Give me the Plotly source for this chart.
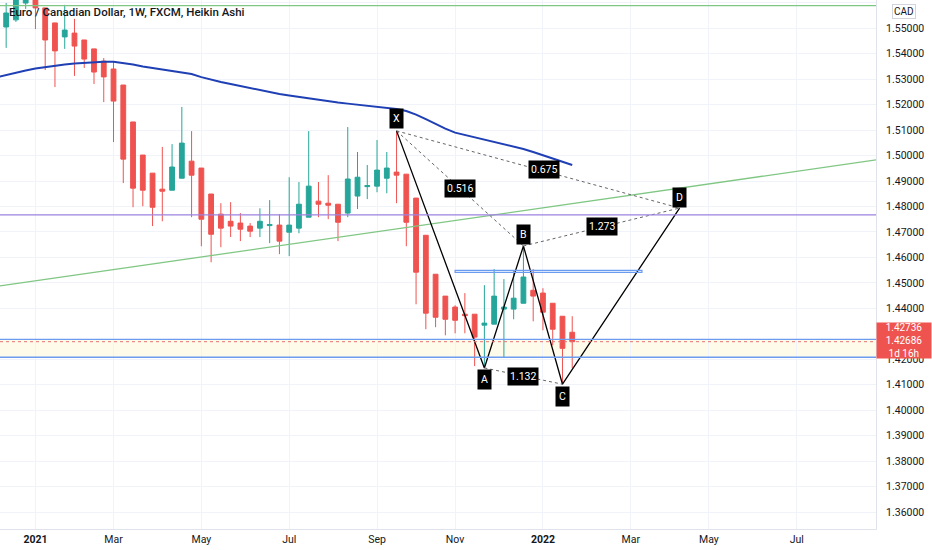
import pandas as pd
import plotly.graph_objects as go

# EUR/CAD weekly Heikin Ashi bars (FXCM), one bar per week starting Monday
weeks = pd.date_range("2020-12-07", periods=60, freq="W-MON")

ha_open = [1.5525, 1.5505, 1.5533, 1.5599, 1.5623, 1.5580, 1.5521, 1.5466, 1.5481, 1.5454,
           1.5419, 1.5371, 1.5340, 1.5277, 1.5132, 1.5002, 1.4931, 1.4868, 1.4864, 1.4911,
           1.4978, 1.4951, 1.4849, 1.4770, 1.4742, 1.4735, 1.4723, 1.4715, 1.4725, 1.4727,
           1.4699, 1.4715, 1.4758, 1.4821, 1.4813, 1.4809, 1.4774, 1.4841, 1.4878, 1.4880,
           1.4911, 1.4935, 1.4927, 1.4833, 1.4687, 1.4534, 1.4448, 1.4405, 1.4377, 1.4377,
           1.4334, 1.4338, 1.4397, 1.4397, 1.4420, 1.4471, 1.4460, 1.4420, 1.4369, 1.4306]
ha_high = [1.5530, 1.5599, 1.5643, 1.5650, 1.5643, 1.5580, 1.5521, 1.5592, 1.5537, 1.5454,
           1.5419, 1.5383, 1.5371, 1.5277, 1.5132, 1.5002, 1.4931, 1.5034, 1.5045, 1.5191,
           1.5096, 1.4951, 1.4849, 1.4813, 1.4817, 1.4774, 1.4735, 1.4793, 1.4825, 1.4770,
           1.4915, 1.4896, 1.5096, 1.4896, 1.4923, 1.4809, 1.5112, 1.5014, 1.4963, 1.5061,
           1.5014, 1.5097, 1.4927, 1.4833, 1.4687, 1.4534, 1.4448, 1.4412, 1.4460, 1.4377,
           1.4491, 1.4554, 1.4515, 1.4550, 1.4645, 1.4554, 1.4479, 1.4420, 1.4369, 1.4369]
ha_low = [1.5470, 1.5423, 1.5525, 1.5576, 1.5497, 1.5336, 1.5269, 1.5419, 1.5313, 1.5344,
          1.5281, 1.5210, 1.5053, 1.4892, 1.4797, 1.4801, 1.4723, 1.4742, 1.4864, 1.4911,
          1.4758, 1.4644, 1.4581, 1.4640, 1.4680, 1.4664, 1.4680, 1.4680, 1.4656, 1.4613,
          1.4605, 1.4695, 1.4758, 1.4758, 1.4750, 1.4664, 1.4758, 1.4790, 1.4829, 1.4856,
          1.4852, 1.4813, 1.4644, 1.4416, 1.4318, 1.4326, 1.4294, 1.4302, 1.4302, 1.4173,
          1.4166, 1.4338, 1.4208, 1.4357, 1.4420, 1.4349, 1.4314, 1.4255, 1.4102, 1.4165]
ha_close = [1.5486, 1.5560, 1.5623, 1.5635, 1.5580, 1.5454, 1.5411, 1.5493, 1.5430, 1.5379,
            1.5328, 1.5309, 1.5214, 1.4986, 1.4872, 1.4864, 1.4797, 1.4860, 1.4955, 1.5049,
            1.4923, 1.4750, 1.4691, 1.4715, 1.4723, 1.4711, 1.4703, 1.4742, 1.4729, 1.4664,
            1.4727, 1.4809, 1.4880, 1.4809, 1.4805, 1.4738, 1.4908, 1.4915, 1.4882, 1.4943,
            1.4951, 1.4923, 1.4738, 1.4542, 1.4381, 1.4365, 1.4357, 1.4353, 1.4371, 1.4287,
            1.4342, 1.4448, 1.4405, 1.4440, 1.4523, 1.4448, 1.4385, 1.4318, 1.4243, 1.4269]
# long moving average (dark blue)
ma_line = [1.5307, 1.5317, 1.5326, 1.5334, 1.5342, 1.5348, 1.5354, 1.5358, 1.5362, 1.5365,
           1.5367, 1.5368, 1.5368, 1.5364, 1.5358, 1.5350, 1.5344, 1.5338, 1.5334, 1.5328,
           1.5320, 1.5308, 1.5297, 1.5289, 1.5281, 1.5273, 1.5265, 1.5258, 1.5250, 1.5242,
           1.5236, 1.5230, 1.5226, 1.5220, 1.5214, 1.5208, 1.5204, 1.5200, 1.5196, 1.5192,
           1.5188, 1.5183, 1.5175, 1.5161, 1.5143, 1.5124, 1.5106, 1.5090, 1.5081, 1.5071,
           1.5063, 1.5053, 1.5045, 1.5036, 1.5026, 1.5014, 1.5002, 1.4990, 1.4977, 1.4963]

# XABCD harmonic pattern
pat_names = ["X", "A", "B", "C", "D"]
pat_dates = pd.to_datetime(["2021-09-20", "2021-11-22", "2021-12-20", "2022-01-17", "2022-04-11"])
pat_prices = [1.5097, 1.4166, 1.4645, 1.4102, 1.4794]
pat_ratios = [("0.516", 0, 2), ("0.675", 0, 4), ("1.273", 2, 4), ("1.132", 1, 3)]

# drawn levels
green_top = 1.5589
green_trend_dates = ["2020-12-09 14:00", "2022-08-29 21:00"]
green_trend_prices = [1.4488, 1.4983]
purple_level = 1.4767
blue_upper = 1.4278
blue_lower = 1.4208
last_price = 1.4269
box_dates = ["2021-11-01", "2022-03-15"]
box_prices = [1.4541, 1.4549]
price_tag = "1.42736<br>1.42686<br>1d 16h"

price_ticks = [1.36, 1.37, 1.38, 1.39, 1.40, 1.41, 1.42, 1.44, 1.45, 1.46,
               1.47, 1.48, 1.49, 1.50, 1.51, 1.52, 1.53, 1.54, 1.55, 1.56]
tick_dates = ["2021-01-04", "2021-03-01", "2021-05-03", "2021-07-05", "2021-09-06",
              "2021-11-01", "2022-01-03", "2022-03-07", "2022-05-02", "2022-07-04"]
tick_text = ["<b>2021</b>", "Mar", "May", "Jul", "Sep", "Nov", "<b>2022</b>", "Mar", "May", "Jul"]

fig = go.Figure()

fig.add_trace(go.Candlestick(
    x=weeks, open=ha_open, high=ha_high, low=ha_low, close=ha_close,
    increasing={'line': {'color': '#26A69A', 'width': 1}, 'fillcolor': '#26A69A'},
    decreasing={'line': {'color': '#EF5350', 'width': 1}, 'fillcolor': '#EF5350'},
    showlegend=False, hoverinfo='skip'
))
fig.add_trace(go.Scatter(
    x=weeks, y=ma_line, mode='lines',
    line={'color': '#1f3fb4', 'width': 2}, showlegend=False, hoverinfo='skip'
))
fig.add_trace(go.Scatter(
    x=green_trend_dates, y=green_trend_prices, mode='lines',
    line={'color': '#81c784', 'width': 1.3}, showlegend=False, hoverinfo='skip'
))

# pattern legs
fig.add_trace(go.Scatter(
    x=pat_dates, y=pat_prices, mode='lines',
    line={'color': '#000000', 'width': 1.3}, showlegend=False, hoverinfo='skip'
))
for _, i, j in pat_ratios:
    fig.add_trace(go.Scatter(
        x=[pat_dates[i], pat_dates[j]], y=[pat_prices[i], pat_prices[j]], mode='lines',
        line={'color': '#666666', 'width': 1, 'dash': 'dot'}, showlegend=False, hoverinfo='skip'
    ))

shapes = [
    dict(type='rect', xref='paper', x0=0, x1=1, yref='y', y0=blue_lower, y1=blue_upper,
         fillcolor='#fffbea', line={'width': 0}, layer='below'),
    dict(type='line', xref='paper', x0=0, x1=1, yref='y', y0=green_top, y1=green_top,
         line={'color': '#81c784', 'width': 1.3}),
    dict(type='line', xref='paper', x0=0, x1=1, yref='y', y0=purple_level, y1=purple_level,
         line={'color': '#9c82e0', 'width': 1.3}),
    dict(type='line', xref='paper', x0=0, x1=1, yref='y', y0=blue_upper, y1=blue_upper,
         line={'color': '#6b9cf0', 'width': 1.3}),
    dict(type='line', xref='paper', x0=0, x1=1, yref='y', y0=blue_lower, y1=blue_lower,
         line={'color': '#6b9cf0', 'width': 1.3}),
    dict(type='line', xref='paper', x0=0, x1=1, yref='y', y0=last_price, y1=last_price,
         line={'color': '#e57373', 'width': 1, 'dash': 'dot'}),
    dict(type='rect', xref='x', x0=box_dates[0], x1=box_dates[1], yref='y',
         y0=box_prices[0], y1=box_prices[1], line={'color': '#6b9cf0', 'width': 1.2}),
]

annotations = [
    dict(text="Euro / Canadian Dollar, 1W, FXCM, Heikin Ashi", xref='paper', yref='paper',
         x=0.008, y=0.977, xanchor='left', yanchor='middle', showarrow=False,
         font={'size': 11.5, 'color': '#131722', 'family': 'Roboto', 'weight': 500}),
    dict(text="CAD", xref='paper', yref='paper', x=1.032, y=0.979, xanchor='center',
         yanchor='middle', showarrow=False, bgcolor='#ffffff', bordercolor='#d1d4dc',
         borderwidth=1, borderpad=1, font={'size': 10, 'color': '#131722', 'family': 'Roboto'}),
    dict(text=price_tag, xref='paper', yref='paper', x=1.0, y=0.3563, xanchor='left',
         yanchor='middle', showarrow=False, bgcolor='#ef5350', width=54, height=35,
         borderpad=0, font={'size': 10, 'color': '#ffffff', 'family': 'Roboto'}),
]

label_shift = [12, -12, 11, -12, 11]
for name, d, p, s in zip(pat_names, pat_dates, pat_prices, label_shift):
    annotations.append(dict(text=name, x=d, y=p, yshift=s, showarrow=False,
                            bgcolor='#000000', borderpad=3,
                            font={'size': 10.5, 'color': '#ffffff', 'family': 'Roboto'}))
for txt, i, j in pat_ratios:
    mid_date = pat_dates[i] + (pat_dates[j] - pat_dates[i]) / 2
    mid_price = (pat_prices[i] + pat_prices[j]) / 2
    annotations.append(dict(text=txt, x=mid_date, y=mid_price, showarrow=False,
                            bgcolor='#000000', borderpad=2,
                            xshift=6 if txt == "0.675" else 0,
                            font={'size': 10.5, 'color': '#ffffff', 'family': 'Roboto'}))

fig.update_layout(
    width=932, height=550,
    margin={'l': 0, 'r': 56, 't': 0, 'b': 21},
    paper_bgcolor='#ffffff', plot_bgcolor='#ffffff',
    font={'family': 'Roboto', 'size': 10.5, 'color': '#131722'},
    shapes=shapes, annotations=annotations,
    showlegend=False,
    xaxis={
        'type': 'date',
        'range': ["2020-12-09 14:00", "2022-08-29 21:00"],
        'rangeslider': {'visible': False},
        'tickvals': tick_dates, 'ticktext': tick_text,
        'showgrid': True, 'gridcolor': '#f0f3fa',
        'showline': True, 'linecolor': '#e0e3eb', 'ticks': '',
        'zeroline': False,
    },
    yaxis={
        'side': 'right',
        'range': [1.35334, 1.5611],
        'tickvals': price_ticks, 'tickformat': '.5f',
        'showgrid': True, 'gridcolor': '#f0f3fa',
        'showline': True, 'linecolor': '#e0e3eb', 'ticks': '',
        'ticklabelstandoff': 7, 'zeroline': False,
    },
)

# drop the page's default body margin so the chart sits at the window's top-left
fig.write_html("out.html", config={'displayModeBar': False},
               post_script="document.body.style.margin='0';")
